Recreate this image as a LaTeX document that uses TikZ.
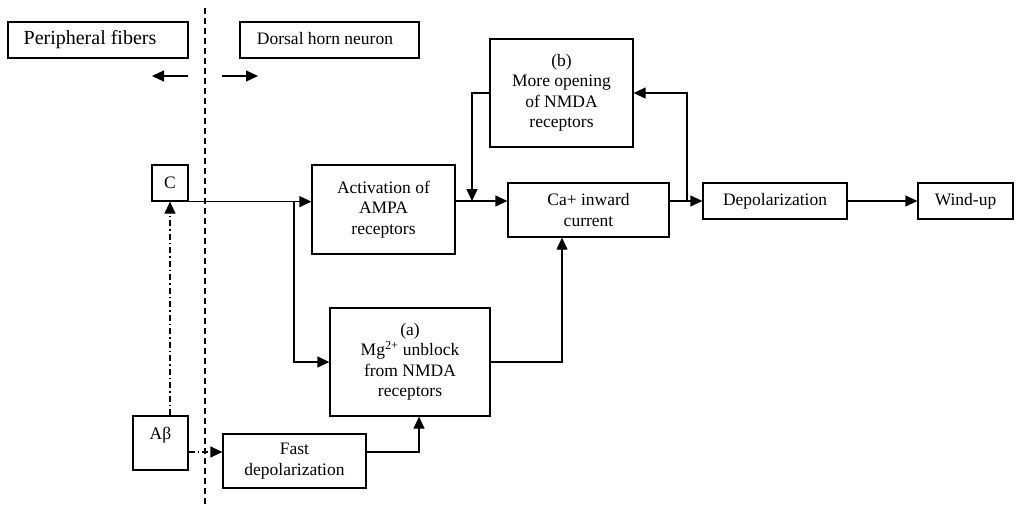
\documentclass[tikz,border=0pt]{standalone}
\usepackage{fontspec}
\setmainfont{Liberation Serif}
\usetikzlibrary{arrows.meta}
\begin{document}
\begin{tikzpicture}[x=1pt,y=-1pt,
  every node/.style={font=\fontsize{17.5}{20.5}\selectfont},
  box/.style={draw,line width=1.3pt,inner sep=0pt,align=center},
  tip/.style={-{Triangle[length=12pt,width=11pt]}},
  conn/.style={line width=1.3pt,tip},
  dashdot/.style={line width=1.3pt,dash pattern=on 6pt off 3pt on 1.5pt off 3pt,tip}]
\useasboundingbox (0,0) rectangle (1016,504);
% boxes
\node[box,minimum width=180pt,minimum height=36pt] (pf) at (98,40) {};
\node[font=\fontsize{20}{24}\selectfont] (pft) at (90,40) {Peripheral fibers};
\node[box,minimum width=179pt,minimum height=36pt] (dh) at (329.5,40) {};
\node (dht) at (325,39) {Dorsal horn neuron};
\node[box,minimum width=36pt,minimum height=36pt] (C) at (170,183) {C};
\node[box,minimum width=143pt,minimum height=89pt] (ampa) at (383.5,209.5) {Activation of\\AMPA\\receptors};
\node[box,minimum width=143pt,minimum height=108pt] (more) at (561.5,93) {(b)\\More opening\\of NMDA\\receptors};
\node[box,minimum width=161pt,minimum height=54pt] (ca) at (588.5,210) {Ca+ inward\\current};
\node[box,minimum width=144pt,minimum height=36pt] (depol) at (775,201) {Depolarization};
\node[box,minimum width=95pt,minimum height=36pt] (wind) at (965.5,201) {Wind-up};
\node[box,minimum width=160pt,minimum height=108pt] (mg) at (410,362) {(a)\\Mg\textsuperscript{2+} unblock\\from NMDA\\receptors};
\node[box,minimum width=55pt,minimum height=54pt] (ab) at (160.5,443) {};
\node (abt) at (160.5,435) {Aβ};
\node[box,minimum width=143pt,minimum height=54pt] (fast) at (294.5,461) {Fast\\depolarization};
% helper coordinates
\coordinate (rail) at (0,201);
\coordinate (j1) at (294,201);
\coordinate (j2) at (472,201);
\coordinate (j4) at (687,201);
\coordinate (j3x) at (562,0);
\coordinate (j5x) at (419,0);
\coordinate (lowrail) at (0,452);
\coordinate (la1) at (188,76);
\coordinate (la2) at (152,76);
\coordinate (ra1) at (222,76);
\coordinate (ra2) at (258,76);
\coordinate (dt) at (205,8);
\coordinate (db) at (205,504);
% divider
\draw[line width=1.3pt,dash pattern=on 6pt off 4pt] (dt) -- (db);
\draw[conn] (la1) -- (la2);
\draw[conn] (ra1) -- (ra2);
% connectors
\draw[conn] (C.south east) -- (C.south east -| ampa.west);
\draw[conn] (j1) |- (mg.west);
\draw[conn] (ampa.east |- rail) -- (ca.west |- rail);
\draw[conn] (more.west) -| (j2);
\draw[conn] (ca.east |- rail) -- (depol.west);
\draw[conn] (j4) |- (more.east);
\draw[conn] (depol.east) -- (wind.west);
\draw[conn] (mg.east) -| (j3x |- ca.south);
\draw[dashdot] (C.south |- ab.north) -- (C.south);
\draw[dashdot] (ab.east |- lowrail) -- (fast.west |- lowrail);
\draw[conn] (fast.east |- lowrail) -| (j5x |- mg.south);
\end{tikzpicture}
\end{document}
